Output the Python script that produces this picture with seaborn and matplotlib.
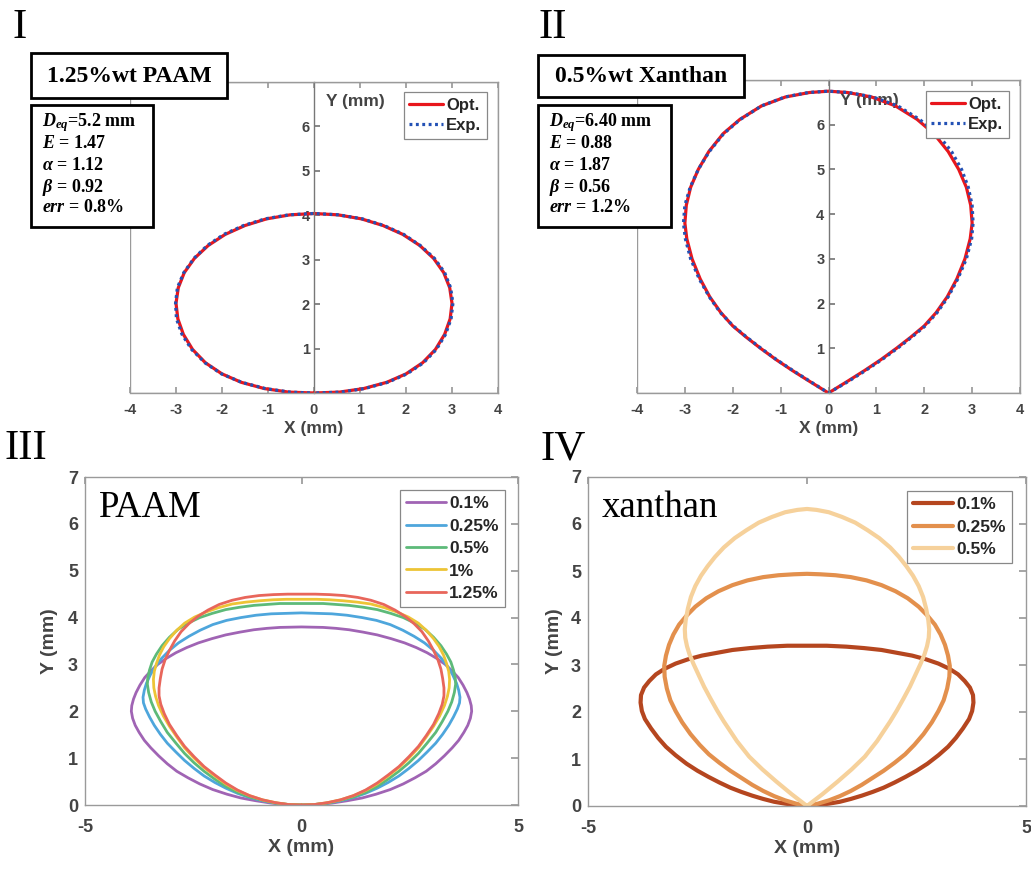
import matplotlib
matplotlib.use("Agg")
import matplotlib.pyplot as plt
from matplotlib.patches import Rectangle
import numpy as np
import pandas as pd
import seaborn as sns

# ---- data: right half profiles (x, y) from the bottom tip to the apex ----
# panel I, 1.25%wt PAAM
opt1_x = [0.00, 0.55, 1.08, 1.58, 2.00, 2.36, 2.64, 2.84, 2.96, 3.00, 2.95, 2.82, 2.60, 2.30, 1.93, 1.50, 1.03, 0.52, 0.00]
opt1_y = [0.00, 0.02, 0.10, 0.24, 0.43, 0.68, 0.98, 1.32, 1.67, 2.02, 2.37, 2.71, 3.03, 3.32, 3.57, 3.77, 3.92, 4.01, 4.04]
exp1_xr = [0.05, 0.58, 1.10, 1.60, 2.02, 2.38, 2.66, 2.86, 2.98, 3.02, 2.97, 2.84, 2.62, 2.31, 1.95, 1.52, 1.05, 0.54, 0.02]
exp1_xl = [0.05, 0.52, 1.06, 1.57, 2.01, 2.37, 2.66, 2.87, 2.99, 3.01, 2.97, 2.83, 2.61, 2.32, 1.96, 1.53, 1.06, 0.55, 0.02]

# panel II, 0.5%wt Xanthan
opt2_x = [0.00, 0.38, 0.75, 1.10, 1.42, 1.72, 2.00, 2.25, 2.48, 2.68, 2.85, 2.96, 3.00, 2.97, 2.88, 2.72, 2.50, 2.20, 1.85, 1.40, 0.90, 0.40, 0.00]
opt2_y = [0.00, 0.25, 0.50, 0.75, 1.00, 1.25, 1.50, 1.80, 2.15, 2.55, 3.00, 3.45, 3.80, 4.20, 4.60, 5.00, 5.40, 5.80, 6.12, 6.42, 6.62, 6.72, 6.75]
exp2_xr = [0.00, 0.40, 0.77, 1.12, 1.44, 1.74, 2.02, 2.27, 2.50, 2.70, 2.88, 2.99, 3.02, 3.00, 2.92, 2.78, 2.57, 2.27, 1.90, 1.45, 0.93, 0.42, 0.00]
exp2_xl = [0.00, 0.37, 0.74, 1.09, 1.41, 1.71, 1.99, 2.26, 2.49, 2.70, 2.88, 2.99, 3.03, 3.00, 2.89, 2.72, 2.49, 2.19, 1.84, 1.40, 0.91, 0.42, 0.00]

# panel III, PAAM concentrations
paam_labels = ["0.1%", "0.25%", "0.5%", "1%", "1.25%"]
paam01_x = [0.00, 0.35, 0.70, 1.05, 1.40, 1.72, 2.05, 2.35, 2.62, 2.88, 3.10, 3.30, 3.48, 3.63, 3.75, 3.84, 3.90, 3.93,
            3.92, 3.88, 3.82, 3.73, 3.62, 3.48, 3.32, 3.12, 2.90, 2.65, 2.38, 2.07, 1.75, 1.42, 1.10, 0.80, 0.50, 0.00]
paam01_y = [0.00, 0.01, 0.04, 0.09, 0.15, 0.23, 0.33, 0.45, 0.58, 0.72, 0.88, 1.05, 1.22, 1.38, 1.55, 1.70, 1.85, 2.00,
            2.12, 2.26, 2.40, 2.56, 2.72, 2.86, 3.00, 3.13, 3.25, 3.36, 3.46, 3.55, 3.63, 3.69, 3.74, 3.77, 3.79, 3.80]
paam025_x = [0.00, 0.30, 0.60, 0.90, 1.20, 1.48, 1.75, 2.00, 2.25, 2.48, 2.70, 2.90, 3.10, 3.26, 3.40, 3.51, 3.60, 3.65,
             3.66, 3.63, 3.58, 3.49, 3.38, 3.23, 3.05, 2.84, 2.60, 2.34, 2.05, 1.73, 1.40, 1.05, 0.70, 0.35, 0.00]
paam025_y = [0.00, 0.01, 0.04, 0.09, 0.16, 0.25, 0.36, 0.48, 0.62, 0.78, 0.95, 1.13, 1.32, 1.51, 1.70, 1.88, 2.05, 2.18,
             2.30, 2.45, 2.60, 2.78, 2.95, 3.13, 3.30, 3.46, 3.60, 3.73, 3.85, 3.94, 4.00, 4.05, 4.08, 4.09, 4.10]
paam05_x = [0.00, 0.30, 0.60, 0.90, 1.20, 1.48, 1.75, 2.00, 2.25, 2.48, 2.70, 2.90, 3.10, 3.25, 3.38, 3.47, 3.53,
            3.56, 3.55, 3.51, 3.45, 3.35, 3.22, 3.05, 2.85, 2.62, 2.35, 2.06, 1.75, 1.43, 1.10, 0.80, 0.50, 0.00]
paam05_y = [0.00, 0.01, 0.04, 0.10, 0.17, 0.27, 0.40, 0.55, 0.72, 0.90, 1.10, 1.32, 1.55, 1.78, 2.00, 2.20, 2.40,
            2.58, 2.72, 2.88, 3.05, 3.22, 3.40, 3.58, 3.75, 3.88, 4.00, 4.09, 4.17, 4.22, 4.26, 4.28, 4.30, 4.30]
paam1_x = [0.00, 0.30, 0.60, 0.90, 1.20, 1.48, 1.75, 2.00, 2.25, 2.48, 2.70, 2.88, 3.05, 3.19, 3.30, 3.37, 3.41,
           3.42, 3.40, 3.35, 3.28, 3.18, 3.05, 2.89, 2.70, 2.47, 2.20, 1.92, 1.60, 1.28, 0.95, 0.65, 0.35, 0.00]
paam1_y = [0.00, 0.01, 0.05, 0.11, 0.20, 0.31, 0.45, 0.62, 0.80, 1.00, 1.22, 1.45, 1.68, 1.90, 2.12, 2.32, 2.50,
           2.68, 2.85, 3.02, 3.20, 3.38, 3.55, 3.72, 3.88, 4.01, 4.12, 4.21, 4.29, 4.33, 4.36, 4.38, 4.39, 4.39]
paam125_x = [0.00, 0.30, 0.60, 0.90, 1.20, 1.48, 1.75, 2.00, 2.25, 2.48, 2.70, 2.88, 3.05, 3.17, 3.25, 3.29, 3.29,
             3.26, 3.22, 3.15, 3.05, 2.93, 2.78, 2.60, 2.40, 2.16, 1.90, 1.60, 1.30, 0.98, 0.65, 0.32, 0.00]
paam125_y = [0.00, 0.01, 0.05, 0.11, 0.20, 0.32, 0.47, 0.64, 0.82, 1.03, 1.25, 1.48, 1.72, 1.95, 2.15, 2.33, 2.50,
             2.70, 2.90, 3.10, 3.30, 3.50, 3.70, 3.87, 4.02, 4.16, 4.28, 4.37, 4.43, 4.47, 4.49, 4.50, 4.50]

# panel IV, xanthan concentrations
xan_labels = ["0.1%", "0.25%", "0.5%"]
xan01_x = [0.00, 0.25, 0.50, 0.75, 1.00, 1.25, 1.50, 1.75, 2.00, 2.25, 2.50, 2.75, 3.00, 3.22, 3.40, 3.56, 3.70,
           3.77, 3.80, 3.79, 3.72, 3.60, 3.45, 3.25, 3.00, 2.72, 2.40, 2.05, 1.70, 1.30, 0.90, 0.45, 0.00]
xan01_y = [0.00, 0.02, 0.05, 0.09, 0.15, 0.22, 0.30, 0.39, 0.50, 0.62, 0.75, 0.90, 1.08, 1.26, 1.45, 1.65, 1.85,
           2.02, 2.20, 2.36, 2.52, 2.66, 2.80, 2.92, 3.03, 3.12, 3.20, 3.26, 3.32, 3.36, 3.39, 3.41, 3.41]
xan025_x = [0.00, 0.25, 0.50, 0.75, 1.00, 1.25, 1.50, 1.75, 2.00, 2.24, 2.45, 2.66, 2.85, 3.00, 3.12, 3.20,
            3.25, 3.26, 3.22, 3.15, 3.05, 2.92, 2.75, 2.55, 2.30, 2.02, 1.70, 1.36, 1.00, 0.65, 0.30, 0.00]
xan025_y = [0.00, 0.05, 0.12, 0.21, 0.32, 0.45, 0.60, 0.75, 0.92, 1.10, 1.30, 1.53, 1.78, 2.02, 2.25, 2.50,
            2.75, 2.98, 3.20, 3.43, 3.65, 3.86, 4.05, 4.24, 4.42, 4.57, 4.70, 4.80, 4.87, 4.91, 4.93, 4.94]
xan05_x = [0.00, 0.35, 0.70, 1.02, 1.32, 1.60, 1.90, 2.05, 2.20, 2.35, 2.48, 2.59, 2.68, 2.74, 2.78, 2.79,
           2.77, 2.72, 2.65, 2.55, 2.42, 2.27, 2.10, 1.90, 1.65, 1.38, 1.10, 0.80, 0.50, 0.22, 0.00]
xan05_y = [0.00, 0.25, 0.52, 0.78, 1.05, 1.38, 1.80, 2.03, 2.28, 2.54, 2.80, 3.02, 3.22, 3.40, 3.58, 3.76,
           3.95, 4.20, 4.45, 4.68, 4.90, 5.10, 5.30, 5.50, 5.70, 5.87, 6.03, 6.15, 6.25, 6.30, 6.32]

paam_colors = ["#a064b4", "#4ea6dc", "#5dba79", "#edc436", "#e8665b"]
xan_colors = ["#b5461f", "#e3904d", "#f6d19b"]


def closed(xr, yr, xl=None):
    # right side up to the apex, then the mirrored left side back down
    if xl is None:
        xl = xr
    xs = list(xr) + [-v for v in reversed(xl)]
    ys = list(yr) + list(reversed(yr))
    return pd.DataFrame({"x": xs, "y": ys})


sns.set_theme(style="white")
plt.rcParams["font.family"] = ["Liberation Sans", "DejaVu Sans"]
plt.rcParams["axes.unicode_minus"] = False
plt.rcParams["mathtext.fontset"] = "custom"
plt.rcParams["mathtext.rm"] = "Liberation Serif:bold"
plt.rcParams["mathtext.it"] = "Liberation Serif:bold:italic"
plt.rcParams["mathtext.bf"] = "Liberation Serif:bold"

W, H = 1031, 869
fig = plt.figure(figsize=(W / 100, H / 100), dpi=100)


def px_axes(left, top, right, bottom):
    return fig.add_axes([left / W, 1 - bottom / H, (right - left) / W, (bottom - top) / H])


TICK_COL = "#444444"
FRAME_COL = "#9a9a9a"


def top_panel(ax, opt, exp, ylab_x, leg_right, leg_top):
    sns.lineplot(data=opt, x="x", y="y", sort=False, estimator=None, color="#e8161c",
                 lw=2.3, ax=ax, label="Opt.", solid_joinstyle="round")
    sns.lineplot(data=exp, x="x", y="y", sort=False, estimator=None, color="#2351b5",
                 lw=2.3, ax=ax, label="Exp.")
    ax.lines[1].set_dashes((0.9, 1.1))
    ax.set_xlim(-4, 4)
    ax.set_ylim(0, 7)
    ax.set_xticks(range(-4, 5))
    ax.set_yticks(range(1, 7))
    ax.spines["left"].set_position(("data", 0))
    for s in ax.spines.values():
        s.set_color(FRAME_COL)
        s.set_linewidth(1.0)
    ax.spines["left"].set_color("#777777")
    ax.add_patch(Rectangle((0, 0), 1, 1, transform=ax.transAxes, fill=False,
                           edgecolor=FRAME_COL, lw=1.0, zorder=0))
    ax.tick_params(axis="x", direction="in", top=True, bottom=True, length=4,
                   color=FRAME_COL, labelsize=10.5, labelcolor=TICK_COL, pad=7)
    ax.tick_params(axis="y", direction="in", left=True, right=False, length=4,
                   color="#777777", labelsize=10.5, labelcolor=TICK_COL, pad=3)
    for t in ax.get_xticklabels() + ax.get_yticklabels():
        t.set_fontweight("bold")
    ax.set_xlabel("X (mm)", fontsize=12.5, fontweight="bold", color=TICK_COL, labelpad=3)
    ax.set_ylabel("")
    ax.text(ylab_x, 6.55, "Y (mm)", fontsize=12.5, fontweight="bold", color=TICK_COL,
            ha="left", va="center", zorder=1)
    leg = ax.legend(loc="upper right", bbox_to_anchor=(leg_right / W, 1 - leg_top / H),
                    bbox_transform=fig.transFigure, borderaxespad=0, fancybox=False,
                    framealpha=1, edgecolor="#888888", handlelength=2.0,
                    handletextpad=0.2, borderpad=0.35, labelspacing=0.3,
                    prop={"weight": "bold", "size": 12})
    leg.get_frame().set_linewidth(0.9)
    leg.legend_handles[1].set_dashes((0.9, 1.1))
    leg.set_zorder(10)


def bottom_panel(ax, curves, labels, colors, lw, name, leg_right, leg_top, ylab_pad):
    for (cx, cy), lab, col in zip(curves, labels, colors):
        sns.lineplot(data=closed(cx, cy), x="x", y="y", sort=False, estimator=None,
                     color=col, lw=lw, ax=ax, label=lab, solid_joinstyle="round")
    ax.set_xlim(-5, 5)
    ax.set_ylim(0, 7)
    ax.set_xticks([-5, 0, 5])
    ax.set_yticks(range(0, 8))
    for s in ax.spines.values():
        s.set_color(FRAME_COL)
        s.set_linewidth(1.0)
    ax.tick_params(direction="in", top=True, right=True, length=5, color=FRAME_COL,
                   labelsize=13, labelcolor=TICK_COL)
    ax.tick_params(axis="x", pad=10)
    ax.tick_params(axis="y", pad=5)
    for t in ax.get_xticklabels() + ax.get_yticklabels():
        t.set_fontweight("bold")
    ax.set_xlabel("X (mm)", fontsize=14, fontweight="bold", color=TICK_COL, labelpad=2)
    ax.set_ylabel("Y (mm)", fontsize=14, fontweight="bold", color=TICK_COL, labelpad=ylab_pad)
    ax.text(-4.68, 6.15, name, family="Liberation Serif", fontsize=26.5, ha="left",
            va="baseline", color="black")
    leg = ax.legend(loc="upper right", bbox_to_anchor=(leg_right / W, 1 - leg_top / H),
                    bbox_transform=fig.transFigure, borderaxespad=0, fancybox=False,
                    framealpha=1, edgecolor="#888888", handlelength=2.3,
                    handletextpad=0.2, borderpad=0.35, labelspacing=0.42,
                    prop={"weight": "bold", "size": 12.5})
    leg.get_frame().set_linewidth(0.9)


# ---- panel I ----
ax1 = px_axes(130, 82, 498, 393)
top_panel(ax1, closed(opt1_x, opt1_y), closed(exp1_xr, opt1_y, exp1_xl), 0.25, 487, 92)

# ---- panel II ----
ax2 = px_axes(637, 80, 1020, 393)
top_panel(ax2, closed(opt2_x, opt2_y), closed(exp2_xr, opt2_y, exp2_xl), 0.23, 1009, 91)

# ---- panel III ----
ax3 = px_axes(85, 477, 518, 805)
bottom_panel(ax3, [(paam01_x, paam01_y), (paam025_x, paam025_y), (paam05_x, paam05_y),
                   (paam1_x, paam1_y), (paam125_x, paam125_y)],
             paam_labels, paam_colors, 2.0, "PAAM", 505, 490, 7)

# ---- panel IV ----
ax4 = px_axes(588, 477, 1026, 806)
bottom_panel(ax4, [(xan01_x, xan01_y), (xan025_x, xan025_y), (xan05_x, xan05_y)],
             xan_labels, xan_colors, 3.0, "xanthan", 1012, 491, 6)


# ---- boxed annotations on panels I and II ----
def fig_box(left, top, right, bottom):
    fig.add_artist(Rectangle((left / W, 1 - bottom / H), (right - left) / W, (bottom - top) / H,
                             transform=fig.transFigure, facecolor="white", edgecolor="black",
                             lw=2.0, zorder=20))


def fig_txt(x, y, s, **kw):
    fig.text(x / W, 1 - y / H, s, zorder=21, **kw)


serif_b = dict(family="Liberation Serif", fontweight="bold", color="black")

fig_box(31, 53, 227, 98)
fig_txt(129, 76, "1.25%wt PAAM", ha="center", va="center", fontsize=17, **serif_b)
fig_box(31, 105, 153, 227)
params1 = [r"$D_{eq}$=5.2 mm", r"$E$ = 1.47", r"$\alpha$ = 1.12", r"$\beta$ = 0.92", r"$err$ = 0.8%"]

fig_box(538, 55, 744, 97)
fig_txt(641, 77, "0.5%wt Xanthan", ha="center", va="center", fontsize=17, **serif_b)
fig_box(538, 105, 671, 227)
params2 = [r"$D_{eq}$=6.40 mm", r"$E$ = 0.88", r"$\alpha$ = 1.87", r"$\beta$ = 0.56", r"$err$ = 1.2%"]

line_y = [123, 144, 165, 187, 207]
for s, yy in zip(params1, line_y):
    fig_txt(42, yy, s, ha="left", va="center", fontsize=13, **serif_b)
for s, yy in zip(params2, line_y):
    fig_txt(549, yy, s, ha="left", va="center", fontsize=13, **serif_b)

# ---- panel letters ----
for lab, x, y in [("I", 12, 28), ("II", 538, 28), ("III", 4, 449), ("IV", 541, 449)]:
    fig_txt(x, y, lab, ha="left", va="center", family="Liberation Serif", fontsize=31, color="black")

fig.savefig("out.png", dpi=100)
